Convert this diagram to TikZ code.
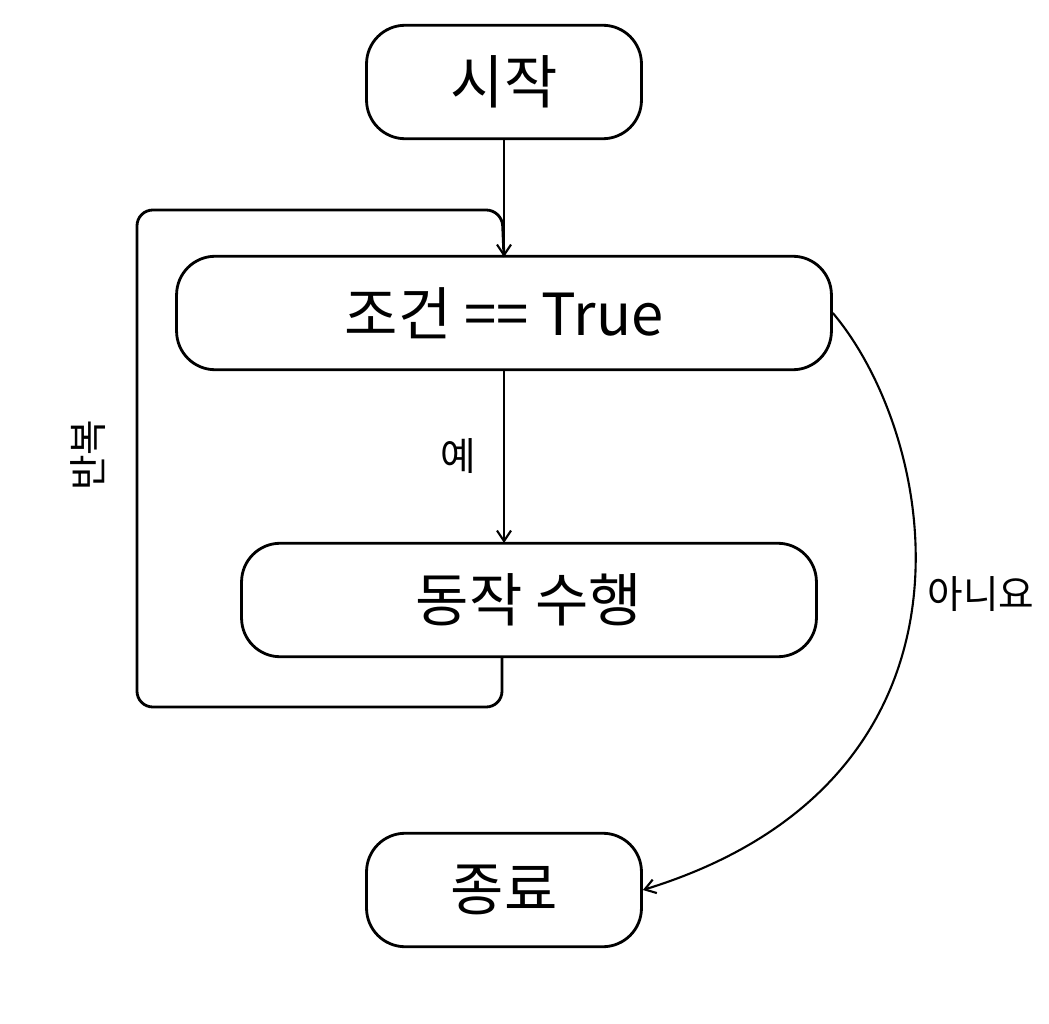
\documentclass[tikz,border=0pt]{standalone}
\usepackage{fontspec}
\setmainfont{Noto Sans CJK KR}
\usetikzlibrary{arrows.meta}
\begin{document}
\begin{tikzpicture}[x=0.02cm,y=-0.02cm,
  box/.style={draw,line width=1.6pt,rounded corners=22pt,minimum height=2.27cm,font=\fontsize{33}{36}\selectfont},
  lab/.style={font=\fontsize{22}{26}\selectfont},
  arr/.style={-{Straight Barb[length=6pt,width=8pt]},line width=1.2pt}]
  \useasboundingbox (0,0) rectangle (1049,1024);
  \node[box,minimum width=5.5cm] (start) at (504,82) {시작};
  \node[box,minimum width=13.1cm] (cond) at (504,313) {조건 == True};
  \node[box,minimum width=11.5cm] (act) at (529,600) {동작 수행};
  \node[box,minimum width=5.5cm] (end) at (504,890) {종료};
  \coordinate (loopin) at (504,257);
  \coordinate (condout) at (504,370);
  \coordinate (actin) at (504,543);
  \coordinate (actout) at (502,658);
  \draw[arr] (start) -- (loopin);
  \draw[arr] (condout) -- node[lab,left=12pt] {예} (actin);
  \draw[line width=1.6pt,rounded corners=9pt] (actout) -- (502,707) -- (137,707) -- (137,210) -- (502,210) -- (loopin);
  \node[lab,rotate=90] (rep) at (88,455) {반복};
  \draw[arr] (cond.east) .. controls (940,440) and (1000,780) .. node[lab,pos=0.48,right=4pt] {아니요} (end.east);
\end{tikzpicture}
\end{document}
